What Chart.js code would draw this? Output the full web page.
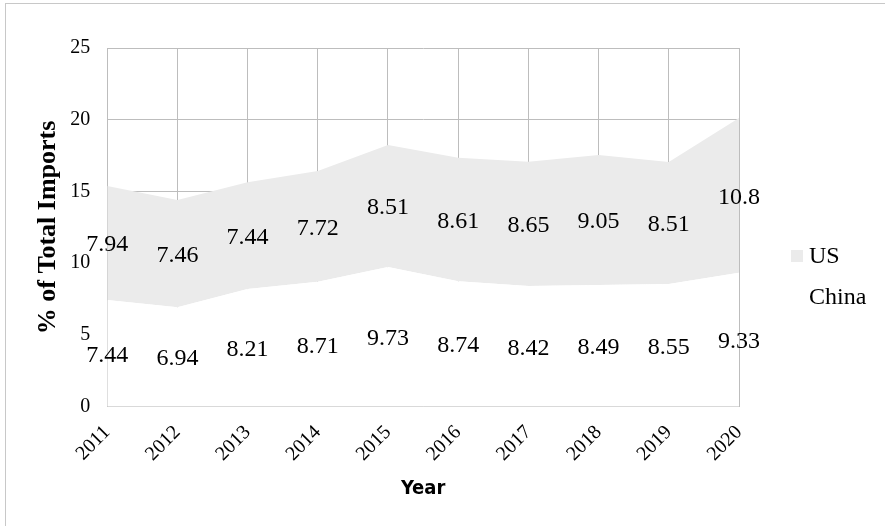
<!DOCTYPE html>
<html>
<head>
<meta charset="utf-8">
<script src="https://cdn.jsdelivr.net/npm/chart.js@4"></script>
<style>
  html, body { margin: 0; padding: 0; background: #fff; overflow: hidden; }
  #frame { position: absolute; left: 5px; top: 3px; width: 900px; height: 540px; border-left: 1px solid #c8c8c8; border-top: 1px solid #c8c8c8; }
  #wrap { position: absolute; left: 0; top: 0; width: 885px; height: 526px; }
</style>
</head>
<body>
<div id="frame"></div>
<div id="wrap"><canvas id="c"></canvas></div>
<script>
// 年份與兩國進口占比（堆疊面積圖，中國在下、美國疊在上）
const years = ['2011', '2012', '2013', '2014', '2015', '2016', '2017', '2018', '2019', '2020'];
const chinaVals = [7.44, 6.94, 8.21, 8.71, 9.73, 8.74, 8.42, 8.49, 8.55, 9.33];
const usVals = [7.94, 7.46, 7.44, 7.72, 8.51, 8.61, 8.65, 9.05, 8.51, 10.8];

const SERIF = '"Liberation Serif", "Times New Roman", serif';

// 每段面積中央標示數值
const bandLabels = {
  id: 'bandLabels',
  afterDatasetsDraw(chart) {
    const { ctx } = chart;
    const y = chart.scales.y;
    const x = chart.scales.x;
    ctx.save();
    ctx.font = `24px ${SERIF}`;
    ctx.fillStyle = '#000';
    ctx.textAlign = 'center';
    ctx.textBaseline = 'middle';
    years.forEach((yr, i) => {
      const px = x.getPixelForValue(i);
      const c = chinaVals[i], u = usVals[i];
      ctx.fillText(String(c), px, y.getPixelForValue(c / 2) + 2);
      ctx.fillText(String(u), px, y.getPixelForValue(c + u / 2) + 2);
    });
    ctx.restore();
  },
};

// 右側圖例：US 在上（灰色方塊），China 在下（白色方塊，看不見）
const sideLegend = {
  id: 'sideLegend',
  afterDraw(chart) {
    const { ctx } = chart;
    const items = chart.data.datasets.slice().reverse();
    const left = chart.chartArea.right + 52;
    ctx.save();
    ctx.font = `24px ${SERIF}`;
    ctx.textBaseline = 'middle';
    ctx.textAlign = 'left';
    items.forEach((ds, i) => {
      const cy = 256 + i * 41;
      ctx.fillStyle = ds.backgroundColor;
      ctx.fillRect(left, cy - 6, 12, 12);
      ctx.fillStyle = '#000';
      ctx.fillText(ds.label, left + 18, cy + 1);
    });
    ctx.restore();
  },
};

new Chart(document.getElementById('c'), {
  type: 'line',
  data: {
    labels: years,
    datasets: [
      { label: 'China', data: chinaVals, fill: 'origin', backgroundColor: '#ffffff', borderColor: '#ffffff', borderWidth: 0, pointRadius: 0 },
      { label: 'US', data: usVals, fill: '-1', backgroundColor: '#ebebeb', borderColor: '#ebebeb', borderWidth: 0, pointRadius: 0 },
    ],
  },
  options: {
    responsive: true, maintainAspectRatio: false, animation: false,
    layout: { padding: { left: 22, right: 146, top: 48, bottom: 25 } },
    plugins: {
      legend: { display: false },
      tooltip: { enabled: false },
    },
    scales: {
      x: {
        offset: false,
        grid: { color: '#bdbdbd', lineWidth: 1, drawTicks: false },
        border: { color: '#bdbdbd' },
        ticks: { font: { family: SERIF, size: 20 }, color: '#000', maxRotation: 45, minRotation: 45, padding: 14 },
        title: { display: true, text: 'Year', font: { family: '"DejaVu Sans Condensed", "DejaVu Sans", sans-serif', size: 20, weight: 'bold' }, color: '#000', padding: { top: -3, bottom: 0 } },
      },
      y: {
        stacked: true, min: 0, max: 25,
        grid: { color: '#bdbdbd', lineWidth: 1, drawTicks: false },
        border: { color: '#bdbdbd' },
        ticks: { stepSize: 5, font: { family: SERIF, size: 20 }, color: '#000', padding: 17 },
        title: { display: true, text: '% of Total Imports', font: { family: SERIF, size: 26, weight: 'bold' }, color: '#000', padding: { top: 11, bottom: -11 } },
      },
    },
  },
  plugins: [bandLabels, sideLegend],
});
</script>
</body>
</html>
